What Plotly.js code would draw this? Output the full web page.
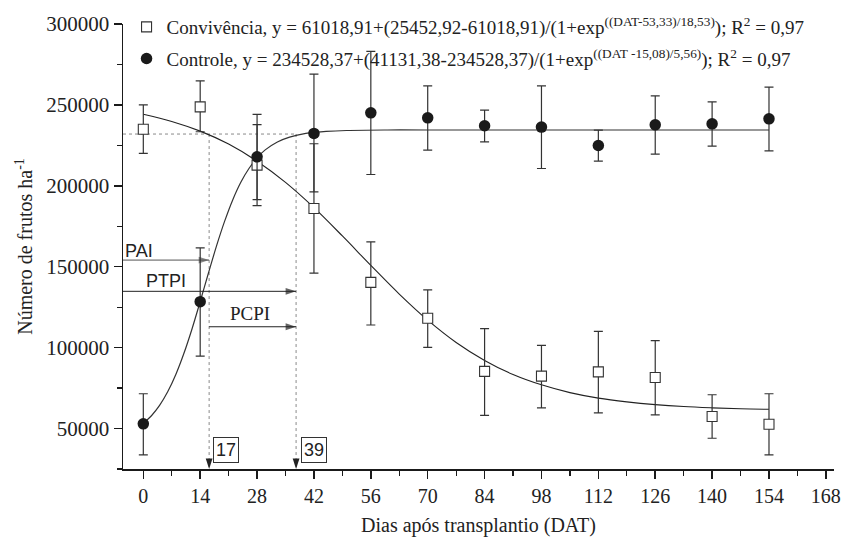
<!DOCTYPE html>
<html>
<head>
<meta charset="utf-8">
<script src="https://cdn.plot.ly/plotly-3.0.1.min.js"></script>
<style>
html,body{margin:0;padding:0;background:#fff;}
#chart{width:843px;height:543px;}
</style>
</head>
<body>
<div id="chart"></div>
<script>
// ---- data ----
const dat = [0, 14, 28, 42, 56, 70, 84, 98, 112, 126, 140, 154];

const convivencia = [235000, 248800, 212800, 186000, 140300, 118200, 85300, 82400, 85000, 81500, 57400, 52700];
const convErrPlus  = [15000, 16000, 25000, 40000, 25000, 17500, 26400, 19000, 25000, 22800, 13500, 18800];
const convErrMinus = [15000, 15400, 25000, 40000, 26300, 18000, 27200, 19600, 25300, 23000, 13400, 19000];

const controle = [52900, 128400, 217900, 232400, 245100, 242000, 237100, 236300, 224900, 237700, 238300, 241400];
const ctrlErrPlus  = [18600, 33200, 26200, 36600, 38000, 19800, 9700, 25500, 9500, 17900, 13600, 19600];
const ctrlErrMinus = [19200, 33700, 26400, 36100, 38100, 20000, 9900, 25600, 9700, 18100, 13800, 19800];

// fitted curves, sampled from the drawn lines
const convFitX = [0, 7, 14, 21, 28, 35, 42, 49, 56, 63, 70, 77, 84, 91, 98, 105, 112, 119, 126, 133, 140, 147, 154];
const convFitY = [244200, 239800, 233800, 225800, 215200, 202100, 186500, 169000, 150800, 133100, 117000, 103200, 92100, 83400, 77000, 72200, 68800, 66500, 64800, 63600, 62800, 62200, 61900];
const ctrlFitX = [0, 2, 4, 6, 8, 10, 12, 14, 16, 18, 20, 22, 24, 26, 28, 30, 33, 36, 40, 45, 50, 60, 70, 84, 98, 112, 126, 140, 154];
const ctrlFitY = [53200, 57900, 64300, 72700, 83400, 96500, 111700, 128500, 145800, 162700, 178000, 191300, 202200, 210700, 217300, 222200, 227100, 230100, 232400, 233600, 234200, 234500, 234500, 234500, 234500, 234500, 234500, 234500, 234500];

// critical period markers
const periodLabels = ['17', '39'];
const periodDays = [16.2, 37.6];
const refLevel = 232000;
const arrowLevels = {PAI: 154100, PTPI: 134800, PCPI: 112900};

const legendConv = 'Convivência, y = 61018,91+(25452,92-61018,91)/(1+exp<sup>((DAT-53,33)/18,53)</sup>); R<sup>2</sup> = 0,97';
const legendCtrl = 'Controle, y = 234528,37+(41131,38-234528,37)/(1+exp<sup>((DAT -15,08)/5,56)</sup>); R<sup>2</sup> = 0,97';

const serif = 'Liberation Serif';
const sans = 'Liberation Sans';
const ink = '#1a1a1a';

function arrowTrace(xs, ys, angle, color) {
  const sizes = xs.map((v, i) => (i % 3 === 1 ? 11 : 0));
  return {x: xs, y: ys, mode: 'lines+markers', showlegend: false, hoverinfo: 'skip', cliponaxis: false,
          line: {color: color, width: 1},
          marker: {symbol: 'arrow', angleref: 'up', angle: angle, size: sizes, color: color, line: {width: 0}}};
}

const traces = [
  {x: convFitX, y: convFitY, mode: 'lines', line: {color: '#222', width: 1.1, shape: 'spline'}, showlegend: false, hoverinfo: 'skip'},
  {x: ctrlFitX, y: ctrlFitY, mode: 'lines', line: {color: '#333', width: 1.2, shape: 'spline'}, showlegend: false, hoverinfo: 'skip'},
  arrowTrace([-5, periodDays[0]], [arrowLevels.PAI, arrowLevels.PAI], 90, '#555'),
  arrowTrace([-5, periodDays[1], null, periodDays[0], periodDays[1]],
             [arrowLevels.PTPI, arrowLevels.PTPI, null, arrowLevels.PCPI, arrowLevels.PCPI], 90, '#222'),
  {x: [periodDays[0], periodDays[1]], y: [25000, 25000], mode: 'markers', showlegend: false, hoverinfo: 'skip', cliponaxis: false,
   marker: {symbol: 'arrow', angleref: 'up', angle: 180, size: 11, color: '#222', line: {width: 0}}},
  {x: dat, y: convivencia, mode: 'markers', name: legendConv, legendgroup: 'a',
   marker: {symbol: 'square', size: 10, color: '#fff', line: {color: '#333', width: 1.1}},
   error_y: {type: 'data', symmetric: false, array: convErrPlus, arrayminus: convErrMinus, color: '#333', thickness: 1.2, width: 4.5}},
  {x: dat, y: controle, mode: 'markers', name: legendCtrl, legendgroup: 'b',
   marker: {symbol: 'circle', size: 11.5, color: ink, line: {color: ink, width: 0}},
   error_y: {type: 'data', symmetric: false, array: ctrlErrPlus, arrayminus: ctrlErrMinus, color: '#333', thickness: 1.2, width: 4.5}}
];

const dotLine = {color: '#8a8a8a', width: 1, dash: 'dot'};
const shapes = [
  {type: 'line', xref: 'x', yref: 'y', x0: -5, x1: periodDays[1], y0: refLevel, y1: refLevel, line: dotLine, layer: 'below'},
  {type: 'line', xref: 'x', yref: 'y', x0: periodDays[0], x1: periodDays[0], y0: refLevel, y1: 25000, line: dotLine, layer: 'below'},
  {type: 'line', xref: 'x', yref: 'y', x0: periodDays[1], x1: periodDays[1], y0: refLevel, y1: 25000, line: dotLine, layer: 'below'}
];

function label(x, y, text, font, extra) {
  return Object.assign({x: x, y: y, xref: 'x', yref: 'y', text: text, showarrow: false, font: font}, extra || {});
}

const annotations = [
  label(-1.0, 159900, 'PAI', {family: sans, size: 18, color: '#222'}),
  label(5.7, 141000, 'PTPI', {family: sans, size: 18, color: '#222'}),
  label(26.3, 121000, 'PCPI', {family: serif, size: 19, color: '#222'}),
  label(20.3, 36900, periodLabels[0], {family: sans, size: 18, color: '#222'}, {bordercolor: '#333', borderwidth: 1, borderpad: 2, bgcolor: '#fff'}),
  label(42.1, 36900, periodLabels[1], {family: sans, size: 18, color: '#222'}, {bordercolor: '#333', borderwidth: 1, borderpad: 2, bgcolor: '#fff'})
];

const layout = {
  width: 843, height: 543,
  margin: {l: 123, r: 9, t: 24, b: 74, autoexpand: false},
  paper_bgcolor: '#fff', plot_bgcolor: '#fff',
  font: {family: serif, size: 20, color: '#222'},
  showlegend: true,
  legend: {x: 0.005, y: 1.036, xanchor: 'left', yanchor: 'top', bgcolor: 'rgba(0,0,0,0)',
           font: {family: serif, size: 19, color: '#222'}, tracegroupgap: 4},
  xaxis: {
    range: [-5, 170], tick0: 0, dtick: 14, showgrid: false, zeroline: false,
    showline: true, linecolor: ink, linewidth: 1.5,
    ticks: 'outside', ticklen: 8, tickwidth: 1.5, tickcolor: ink,
    minor: {ticks: 'outside', ticklen: 5, tickwidth: 1.2, tickcolor: ink, dtick: 7, tick0: 0, showgrid: false},
    tickfont: {family: serif, size: 20, color: '#222'},
    title: {text: 'Dias após transplantio (DAT)', font: {family: serif, size: 20, color: '#222'}, standoff: 12}
  },
  yaxis: {
    range: [25000, 300000], tick0: 0, dtick: 50000, tickformat: 'd', showgrid: false, zeroline: false,
    showline: true, linecolor: ink, linewidth: 1.5,
    ticks: 'outside', ticklen: 8, tickwidth: 1.5, tickcolor: ink,
    minor: {ticks: 'outside', ticklen: 5, tickwidth: 1.2, tickcolor: ink, dtick: 25000, tick0: 0, showgrid: false},
    tickfont: {family: serif, size: 21, color: '#222'},
    title: {text: 'Número de frutos ha<sup>-1</sup>', font: {family: serif, size: 20, color: '#222'}, standoff: 8}
  },
  shapes: shapes,
  annotations: annotations
};

Plotly.newPlot('chart', traces, layout, {staticPlot: true, displayModeBar: false});
</script>
</body>
</html>
